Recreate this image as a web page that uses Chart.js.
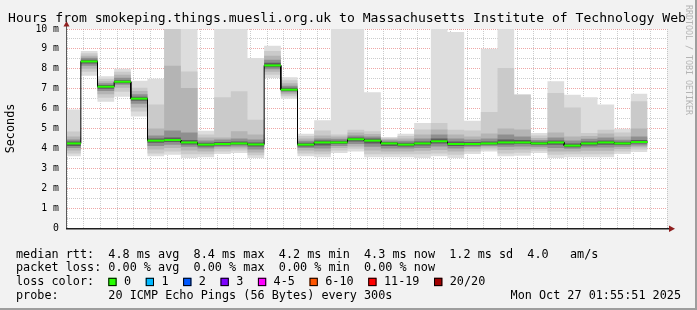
<!DOCTYPE html>
<html>
<head>
<meta charset="utf-8">
<script src="https://cdn.jsdelivr.net/npm/chart.js@4.4.1/dist/chart.umd.min.js"></script>
<style>
  html, body { margin: 0; padding: 0; background: #f2f2f2; }
  #wrap { width: 697px; height: 310px; }
</style>
</head>
<body>
<div id="wrap"><canvas id="chart" width="697" height="310"></canvas></div>
<script>
// Graph window and 5 minute bins (each value covers the bin ending at that time)
const graphStart = '22:55:51';
const graphEnd = '01:55:51';
const binEnds = ['23:00', '23:05', '23:10', '23:15', '23:20', '23:25', '23:30', '23:35', '23:40',
  '23:45', '23:50', '23:55', '00:00', '00:05', '00:10', '00:15', '00:20', '00:25', '00:30',
  '00:35', '00:40', '00:45', '00:50', '00:55', '01:00', '01:05', '01:10', '01:15', '01:20',
  '01:25', '01:30', '01:35', '01:40', '01:45', '01:50'];

// Smoke, in ms: outer pair (min/max) down to the inner pairs around the median
const rttMin = [3.6, 7.65, 6.35, 6.6, 5.6, 3.6, 3.68, 3.52, 3.55, 3.72, 3.77, 3.52, 7.54, 6.5, 3.6, 3.55, 3.77, 3.85, 3.55, 3.55, 3.55, 3.52, 3.6, 3.52, 3.72, 3.85, 3.6, 3.63, 3.77, 3.52, 3.55, 3.55, 3.55, 3.72, 3.82];
const lo2 = [3.75, 7.85, 6.55, 6.85, 5.85, 3.75, 3.85, 3.7, 3.7, 3.85, 3.9, 3.65, 7.7, 6.62, 3.75, 3.7, 3.9, 3.98, 3.7, 3.7, 3.7, 3.7, 3.75, 3.68, 3.85, 3.95, 3.75, 3.78, 3.88, 3.68, 3.7, 3.7, 3.7, 3.85, 3.95];
const lo3 = [3.9, 8.0, 6.72, 7.05, 6.05, 3.95, 4.02, 3.9, 3.85, 3.98, 4.0, 3.8, 7.85, 6.72, 3.9, 3.85, 4.02, 4.1, 3.9, 3.85, 3.85, 3.88, 3.92, 3.85, 3.98, 4.05, 3.92, 3.95, 3.98, 3.85, 3.85, 3.88, 3.88, 3.97, 4.06];
const lo4 = [4.02, 8.15, 6.88, 7.2, 6.25, 4.12, 4.18, 4.08, 4.0, 4.08, 4.1, 3.95, 7.98, 6.82, 4.02, 4.0, 4.12, 4.22, 4.08, 4.0, 4.0, 4.02, 4.1, 4.0, 4.08, 4.12, 4.08, 4.1, 4.08, 4.02, 3.98, 4.04, 4.04, 4.08, 4.15];
const lo5 = [4.12, 8.27, 7.0, 7.28, 6.4, 4.28, 4.32, 4.2, 4.1, 4.15, 4.18, 4.1, 8.08, 6.9, 4.1, 4.15, 4.22, 4.35, 4.25, 4.12, 4.1, 4.15, 4.25, 4.12, 4.15, 4.18, 4.2, 4.22, 4.17, 4.18, 4.06, 4.15, 4.18, 4.17, 4.24];
const median = [4.25, 8.37, 7.1, 7.35, 6.5, 4.39, 4.42, 4.3, 4.19, 4.22, 4.25, 4.2, 8.17, 6.95, 4.19, 4.3, 4.3, 4.46, 4.39, 4.25, 4.19, 4.25, 4.36, 4.22, 4.22, 4.25, 4.3, 4.3, 4.25, 4.3, 4.14, 4.25, 4.3, 4.25, 4.32];
const hi5 = [4.35, 8.45, 7.18, 7.42, 6.6, 4.5, 4.55, 4.42, 4.28, 4.32, 4.35, 4.3, 8.3, 7.05, 4.28, 4.4, 4.38, 4.55, 4.5, 4.32, 4.28, 4.35, 4.5, 4.35, 4.32, 4.35, 4.45, 4.42, 4.33, 4.4, 4.25, 4.35, 4.4, 4.33, 4.42];
const hi4 = [4.45, 8.55, 7.28, 7.55, 6.72, 4.65, 4.9, 4.8, 4.4, 4.45, 4.5, 4.45, 8.45, 7.15, 4.38, 4.5, 4.48, 4.65, 4.6, 4.4, 4.38, 4.5, 4.7, 4.5, 4.45, 4.5, 4.7, 4.6, 4.42, 4.55, 4.4, 4.48, 4.55, 4.43, 4.6];
const hi3 = [4.6, 8.65, 7.38, 7.7, 6.88, 5.0, 8.15, 7.03, 4.55, 4.55, 4.86, 4.7, 8.65, 7.28, 4.5, 4.65, 4.6, 4.8, 4.72, 4.47, 4.5, 4.7, 4.95, 4.7, 4.6, 4.75, 5.0, 4.95, 4.52, 4.8, 4.6, 4.62, 4.75, 4.6, 5.0];
const hi2 = [4.85, 8.78, 7.5, 7.85, 7.05, 6.2, 12, 7.87, 4.7, 6.57, 6.87, 5.44, 8.9, 7.42, 4.62, 4.9, 4.7, 4.94, 4.86, 4.52, 4.62, 4.95, 5.28, 4.94, 4.9, 5.83, 8.04, 6.7, 4.65, 6.78, 6.06, 4.77, 4.94, 4.8, 6.37];
const rttMax = [5.95, 8.9, 7.62, 8.0, 7.4, 7.5, 12, 12, 4.89, 12, 12, 8.54, 9.16, 7.57, 4.74, 5.41, 12, 12, 6.82, 4.57, 4.74, 5.28, 12, 9.85, 5.39, 9.01, 12, 6.72, 4.77, 7.37, 6.7, 6.57, 6.2, 4.99, 6.75];

// Legend texts
const titleText = 'Hours from smokeping.things.muesli.org.uk to Massachusetts Institute of Technology Web';
const medianRtt = ['4.8 ms avg', '8.4 ms max', '4.2 ms min', '4.3 ms now', '1.2 ms sd', '4.0   am/s'];
const packetLoss = ['0.00 % avg', '0.00 % max', '0.00 % min', '0.00 % now'];
const lossLabels = ['0', '1', '2', '3', '4-5', '6-10', '11-19', '20/20'];
const lossColors = ['#26ff00', '#00b8ff', '#0059ff', '#7e00ff', '#ff00ff', '#ff5500', '#ff0000', '#a10000'];
const probeText = '20 ICMP Echo Pings (56 Bytes) every 300s';
const stampText = 'Mon Oct 27 01:55:51 2025';

const MONO = '"DejaVu Sans Mono", "Liberation Mono", monospace';
const GRID_MINOR = 'rgba(143, 143, 143, 0.45)';
const GRID_MAJOR = 'rgba(222, 79, 79, 0.5)';

// minutes since midnight, times after midnight go to the next day
function toMin(t) {
    const p = t.split(':').map(Number);
    const h = p[0] < 12 ? p[0] + 24 : p[0];
    return h * 60 + p[1] + (p[2] || 0) / 60;
}

function fmtTime(v) {
    const h = Math.floor(v / 60) % 24;
    const m = Math.round(v % 60);
    return String(h).padStart(2, '0') + ':' + String(m).padStart(2, '0');
}

const xMin = toMin(graphStart);
const xMax = toMin(graphEnd);
const endMins = binEnds.map(toMin);

// two points per bin so every bin is a flat step
function steps(values) {
    const pts = [];
    values.forEach((v, i) => {
        const start = i === 0 ? xMin : endMins[i - 1];
        pts.push({x: start, y: v}, {x: endMins[i], y: v});
    });
    return pts;
}

const bands = [
    {lo: rttMin, hi: rttMax, color: '#dddddd'},
    {lo: lo2, hi: hi2, color: '#cacaca'},
    {lo: lo3, hi: hi3, color: '#b4b4b4'},
    {lo: lo4, hi: hi4, color: '#8f8f8f'},
    {lo: lo5, hi: hi5, color: '#5c5c5c'}
];

const datasets = [];
bands.forEach((b, k) => {
    datasets.push({
        data: steps(b.lo), borderWidth: 0, borderColor: 'transparent',
        pointRadius: 0, fill: false, order: 10 - k
    });
    datasets.push({
        data: steps(b.hi), borderWidth: 0, borderColor: 'transparent',
        pointRadius: 0, fill: '-1', backgroundColor: b.color, order: 10 - k
    });
});
datasets.push({
    data: steps(median), borderColor: '#000000', borderWidth: 1,
    pointRadius: 0, fill: false, order: 1
});
datasets.push({
    data: steps(median), borderWidth: 2, pointRadius: 0, fill: false, order: 0,
    borderColor: lossColors[0],
    segment: {
        borderColor: ctx => ctx.p0.parsed.x === ctx.p1.parsed.x ? 'transparent' : lossColors[0]
    }
});

// background, frame, axes with arrows and all the rrdtool style texts
const smokeFrame = {
    id: 'smokeFrame',
    beforeDraw(chart) {
        const {ctx, chartArea: a, width: w, height: h} = chart;
        ctx.save();
        ctx.fillStyle = '#f2f2f2';
        ctx.fillRect(0, 0, w, h);
        ctx.fillStyle = '#9e9e9e';
        ctx.fillRect(0, h - 2, w, 2);
        ctx.fillRect(w - 2, 0, 2, h);
        ctx.fillStyle = '#ffffff';
        ctx.fillRect(a.left, a.top, a.right - a.left, a.bottom - a.top);
        ctx.restore();
    },
    afterDraw(chart) {
        const {ctx, chartArea: a} = chart;
        ctx.save();

        // axes
        ctx.fillStyle = '#5a5a5a';
        ctx.fillRect(a.left - 1, a.top - 3, 1, a.bottom - a.top + 4);
        ctx.fillStyle = '#1f1f1f';
        ctx.fillRect(a.left - 1, a.bottom, a.right - a.left + 3, 1.5);

        // arrows
        ctx.fillStyle = '#8f1f1f';
        ctx.beginPath();
        ctx.moveTo(a.left - 0.5, a.top - 8);
        ctx.lineTo(a.left - 3.5, a.top - 2.5);
        ctx.lineTo(a.left + 2.5, a.top - 2.5);
        ctx.closePath();
        ctx.fill();
        ctx.beginPath();
        ctx.moveTo(a.right + 8, a.bottom + 0.75);
        ctx.lineTo(a.right + 2, a.bottom - 2.5);
        ctx.lineTo(a.right + 2, a.bottom + 4);
        ctx.closePath();
        ctx.fill();

        // title
        ctx.fillStyle = '#000000';
        ctx.textBaseline = 'middle';
        ctx.textAlign = 'left';
        ctx.font = '13.1px ' + MONO;
        ctx.fillText(titleText, 8, 18.5);

        // legend lines
        ctx.font = '11.8px ' + MONO;
        const lx = 16;
        ctx.fillText('median rtt:  ' + medianRtt.join('  '), lx, 254.5);
        ctx.fillText('packet loss: ' + packetLoss.join('  '), lx, 268.3);
        ctx.fillText('loss color:', lx, 281.9);
        let bx = 108.3;
        lossLabels.forEach((lab, i) => {
            ctx.fillStyle = lossColors[i];
            ctx.fillRect(bx, 277.8, 8.3, 8.3);
            ctx.strokeStyle = '#000000';
            ctx.lineWidth = 1;
            ctx.strokeRect(bx + 0.5, 278.3, 7.3, 7.3);
            ctx.fillStyle = '#000000';
            ctx.fillText(lab, bx + 15.7, 281.9);
            bx += 15.7 + ctx.measureText(lab).width + 14.6;
        });
        ctx.fillText('probe:       ' + probeText, lx, 295.5);
        ctx.textAlign = 'right';
        ctx.fillText(stampText, 681, 295.5);

        // watermark
        ctx.translate(688, 5);
        ctx.rotate(Math.PI / 2);
        ctx.textAlign = 'left';
        ctx.fillStyle = '#b4b4b4';
        ctx.font = '8.3px ' + MONO;
        ctx.fillText('RRDTOOL / TOBI OETIKER', 0, 0);
        ctx.restore();
    }
};

new Chart(document.getElementById('chart').getContext('2d'), {
    type: 'line',
    data: {datasets: datasets},
    plugins: [smokeFrame],
    options: {
        responsive: false,
        animation: false,
        devicePixelRatio: 1,
        layout: {padding: {left: 0, top: 29, right: 30, bottom: 62}},
        elements: {line: {tension: 0}},
        plugins: {
            legend: {display: false},
            tooltip: {enabled: false}
        },
        scales: {
            x: {
                type: 'linear',
                min: xMin,
                max: xMax,
                z: 1,
                afterFit: s => { s.height = 20; },
                border: {display: false, dash: [1, 1]},
                grid: {
                    drawTicks: false,
                    color: c => c.tick && Math.round(c.tick.value) % 20 === 0 ? GRID_MAJOR : GRID_MINOR
                },
                ticks: {
                    stepSize: 5,
                    includeBounds: false,
                    autoSkip: false,
                    maxRotation: 0,
                    padding: 3,
                    color: '#000000',
                    font: {family: MONO, size: 9.8},
                    callback: v => Math.round(v) % 20 === 0 ? fmtTime(v) : ''
                }
            },
            y: {
                min: 0,
                max: 10,
                z: 1,
                afterFit: s => { s.width = 67; },
                border: {display: false, dash: [1, 1]},
                grid: {
                    drawTicks: false,
                    color: c => c.tick && Number.isInteger(c.tick.value) ? GRID_MAJOR : GRID_MINOR
                },
                ticks: {
                    stepSize: 0.5,
                    autoSkip: false,
                    padding: 8,
                    color: '#000000',
                    font: {family: MONO, size: 9.8},
                    callback: v => Number.isInteger(v) ? (v === 0 ? '0' : v + ' m') : ''
                },
                title: {
                    display: true,
                    text: 'Seconds',
                    color: '#000000',
                    padding: {top: 4, bottom: 0},
                    font: {family: MONO, size: 11.8}
                }
            }
        }
    }
});
</script>
</body>
</html>
